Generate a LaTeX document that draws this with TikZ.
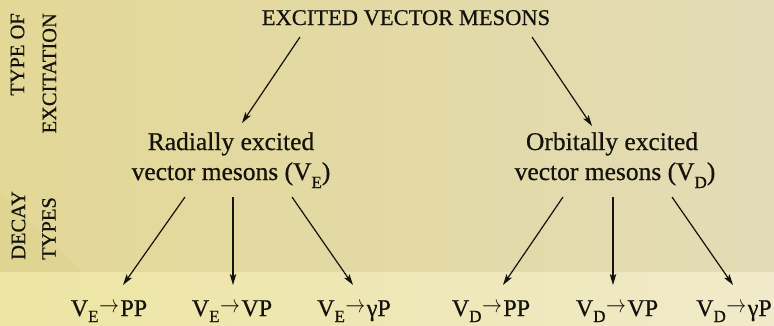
\documentclass[tikz,border=0pt]{standalone}
\usepackage{fontspec}
\setmainfont[FakeBold=0.6]{Liberation Serif}
\usetikzlibrary{arrows.meta,calc}
\definecolor{bgL}{RGB}{227,216,150}
\definecolor{bgR}{RGB}{227,219,182}
\definecolor{bandL}{RGB}{237,229,162}
\definecolor{bandR}{RGB}{240,234,202}
\definecolor{diagc}{RGB}{219,206,140}
\definecolor{ink}{RGB}{20,18,12}
\newcommand{\sublow}[2]{\raisebox{-#1}{\fontsize{17}{17}\selectfont #2}}
\newcommand{\decarrow}{\hspace{0.5pt}\raisebox{4pt}{\scalebox{0.8}[1]{$\rightarrow$}}\hspace{1.5pt}}
\begin{document}
\begin{tikzpicture}[x=1pt,y=-1pt,
  lbl/.style={inner sep=0pt, text=ink, anchor=base},
  titlefont/.style={lbl, font=\fontsize{22.5}{26}\selectfont},
  midfont/.style={lbl, font=\fontsize{25.5}{30}\selectfont},
  decfont/.style={lbl, font=\fontsize{24}{28}\selectfont},
  sidefont/.style={inner sep=0pt, text=ink, rotate=90, font=\fontsize{20.5}{24}\selectfont},
  arr/.style={draw=ink, line width=1.2pt, -{Stealth[length=11pt,width=6.5pt,inset=2.5pt]}}]
\useasboundingbox (0,0) rectangle (774,325);
% background
\fill[left color=bgL, right color=bgR] (0,0) rectangle (774,272);
\fill[left color=bandL, right color=bandR] (0,272) rectangle (774,325);
\fill[diagc, opacity=0.3] (0,193) -- (83,272) -- (0,272) -- cycle;
% side labels
\node[sidefont, anchor=east] (typeof) at (17.5,13) {TYPE OF};
\node[sidefont, anchor=east] (excit) at (49.5,13) {EXCITATION};
\node[sidefont, anchor=west] (decay) at (18.5,260) {DECAY};
\node[sidefont, anchor=west] (types) at (49,260) {TYPES};
% title
\node[titlefont] (title) at (406,25) {EXCITED VECTOR MESONS};
% middle
\node[midfont] (rad1) at (231,150) {Radially excited};
\node[midfont] (rad2) at (231,180) {vector mesons (V\sublow{8pt}{E})};
\node[midfont] (orb1) at (612,150) {Orbitally excited};
\node[midfont] (orb2) at (615,180) {vector mesons (V\sublow{8pt}{D})};
% bottom
\node[decfont] (e1) at (109,316) {V\sublow{6pt}{E}\decarrow PP};
\node[decfont] (e2) at (232,316) {V\sublow{6pt}{E}\decarrow VP};
\node[decfont] (e3) at (354,316) {V\sublow{6pt}{E}\decarrow γP};
\node[decfont] (d1) at (491,316) {V\sublow{6pt}{D}\decarrow PP};
\node[decfont] (d2) at (617,316) {V\sublow{6pt}{D}\decarrow VP};
\node[decfont] (d3) at (734,316) {V\sublow{6pt}{D}\decarrow γP};
% arrows
\draw[arr] ([shift={(-106,12)}]title.base) -- ([shift={(11,-27)}]rad1.base);
\draw[arr] ([shift={(126,12)}]title.base) -- ([shift={(-20,-24)}]orb1.base);
\draw[arr] ([shift={(-46,17)}]rad2.base) -- ([shift={(14,-31)}]e1.base);
\draw[arr] ([shift={(2,17)}]rad2.base) -- ([shift={(1,-31)}]e2.base);
\draw[arr] ([shift={(61,17)}]rad2.base) -- ([shift={(-1,-31)}]e3.base);
\draw[arr] ([shift={(-52,17)}]orb2.base) -- ([shift={(12,-31)}]d1.base);
\draw[arr] ([shift={(-2,17)}]orb2.base) -- ([shift={(-4,-31)}]d2.base);
\draw[arr] ([shift={(57,17)}]orb2.base) -- ([shift={(-1,-31)}]d3.base);
\end{tikzpicture}
\end{document}
